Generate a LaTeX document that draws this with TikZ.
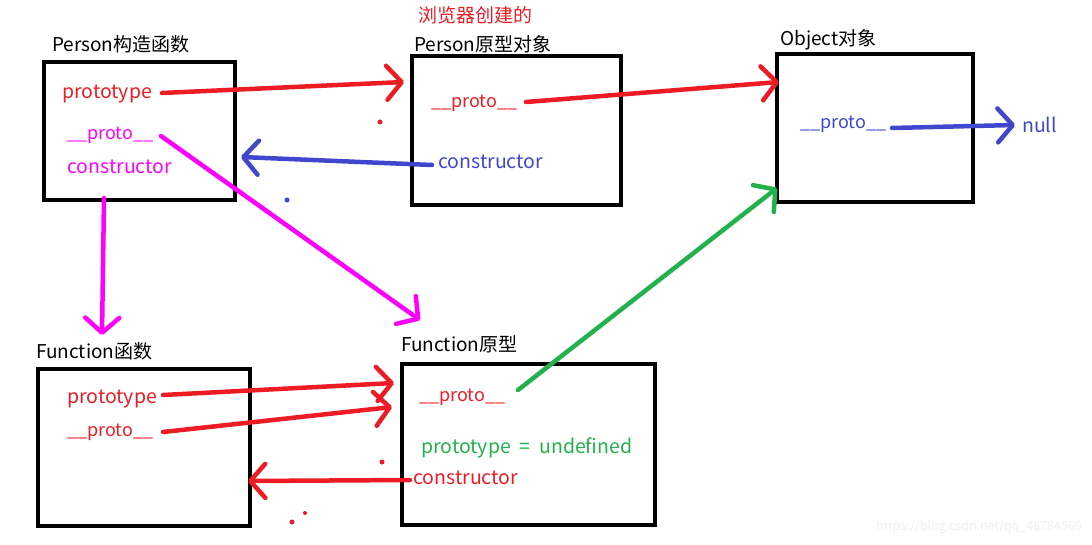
\documentclass[tikz,border=0pt]{standalone}
\usepackage{fontspec}
\setmainfont{Noto Sans CJK SC}
\usetikzlibrary{arrows.meta}

\definecolor{pred}{RGB}{237,28,36}
\definecolor{pblue}{RGB}{63,72,204}
\definecolor{pmag}{RGB}{255,0,255}
\definecolor{pgreen}{RGB}{34,177,76}

\newcommand{\protoname}{{\fontsize{18}{22}\selectfont\_\_proto\_\_}}

\begin{document}
\begin{tikzpicture}[x=1pt,y=-1pt]
\useasboundingbox (0,0) rectangle (1092,545);
\begin{scope}[every node/.style={inner sep=0pt,font=\fontsize{19.5}{22}\selectfont}]
    % boxes
    \node (pcons) at (139.5, 131) [draw=black,line width=4.5pt,minimum width=191pt,minimum height=138pt] {};
    \node (pproto) at (516.5, 130.5) [draw=black,line width=4.5pt,minimum width=209pt,minimum height=149pt] {};
    \node (obj) at (875, 128) [draw=black,line width=4.5pt,minimum width=196pt,minimum height=148pt] {};
    \node (fcons) at (144, 447.5) [draw=black,line width=4.5pt,minimum width=212pt,minimum height=157pt] {};
    \node (fproto) at (528.5, 444.5) [draw=black,line width=4.5pt,minimum width=253pt,minimum height=161pt] {};

    % titles
    \node (pconst) at (52, 44) [anchor=west,font=\fontsize{19}{22}\selectfont] {Person构造函数};
    \node (pprotot) at (414, 44) [anchor=west,font=\fontsize{19}{22}\selectfont] {Person原型对象};
    \node (browser) at (418, 15) [anchor=west,text=pred,font=\fontsize{19}{22}\selectfont] {浏览器创建的};
    \node (objt) at (780, 40) [anchor=west,font=\fontsize{19}{22}\selectfont] {Object对象};
    \node (fconst) at (36, 351) [anchor=west,font=\fontsize{19}{22}\selectfont] {Function函数};
    \node (fprotot) at (401, 344) [anchor=west,font=\fontsize{19}{22}\selectfont] {Function原型};

    % fields
    \node (pc1) at (62, 94) [anchor=west,text=pred] {prototype};
    \node (pc2) at (67, 135) [anchor=west,text=pmag] {\protoname};
    \node (pc3) at (67, 167) [anchor=west,text=pmag] {constructor};
    \node (pp1) at (431, 103) [anchor=west,text=pred] {\protoname};
    \node (pp2) at (438, 162) [anchor=west,text=pblue] {constructor};
    \node (ob1) at (800, 124) [anchor=west,text=pblue] {\protoname};
    \node (null) at (1022, 125) [anchor=west,text=pblue] {null};
    \node (fc1) at (67, 399) [anchor=west,text=pred] {prototype};
    \node (fc2) at (67, 432) [anchor=west,text=pred] {\protoname};
    \node (fp1) at (419, 397) [anchor=west,text=pred] {\protoname};
    \node (fp2) at (421, 448) [anchor=west,text=pgreen] {prototype\ \ =\ \ undefined};
    \node (fp3) at (413, 478) [anchor=west,text=pred] {constructor};

    \node (mark) at (1082, 527) [anchor=east,text=black!6,font=\fontsize{12.5}{14}\selectfont] {https://blog.csdn.net/qq\_48784569};
\end{scope}

% arrow ends
\coordinate (pc1s) at (162, 93);
\coordinate (pc1e) at (404, 82);
\coordinate (pp1s) at (526, 102);
\coordinate (pp1e) at (779, 82);
\coordinate (pp2s) at (432, 165);
\coordinate (pp2e) at (241, 157);
\coordinate (ob1s) at (892, 128);
\coordinate (ob1e) at (1015, 125);
\coordinate (pc2s) at (161, 136);
\coordinate (pc2e) at (420, 320);
\coordinate (pc3s) at (104, 198);
\coordinate (pc3e) at (102, 335);
\coordinate (fc1s) at (163, 395);
\coordinate (fc1e) at (394, 383);
\coordinate (fc2s) at (163, 432);
\coordinate (fc2e) at (392, 407);
\coordinate (fp1s) at (518, 390);
\coordinate (fp1e) at (777, 188);
\coordinate (fp3s) at (410, 480);
\coordinate (fp3e) at (248, 481);

\begin{scope}[>={Straight Barb[length=15pt,width=34pt,round]},
              every edge/.style={draw,line width=4.5pt,line cap=round}]
    \path [->] (pc1s) edge [pred] (pc1e);
    \path [->] (pp1s) edge [pred] (pp1e);
    \path [->] (pp2s) edge [pblue] (pp2e);
    \path [->] (ob1s) edge [pblue] (ob1e);
    \path [->] (pc2s) edge [pmag] (pc2e);
    \path [->] (pc3s) edge [pmag] (pc3e);
    \path [->] (fc1s) edge [pred] (fc1e);
    \path [->] (fc2s) edge [pred] (fc2e);
    \path [->] (fp1s) edge [pgreen] (fp1e);
    \path [->] (fp3s) edge [pred] (fp3e);
\end{scope}

% stray dots
\fill [pred] (380, 122) circle (2.5);
\fill [pblue] (287, 200) circle (2.5);
\fill [pred] (382, 462) circle (2.5);
\fill [pred] (292, 522) circle (2.5);
\fill [pred] (305, 513) circle (2);
\end{tikzpicture}
\end{document}
